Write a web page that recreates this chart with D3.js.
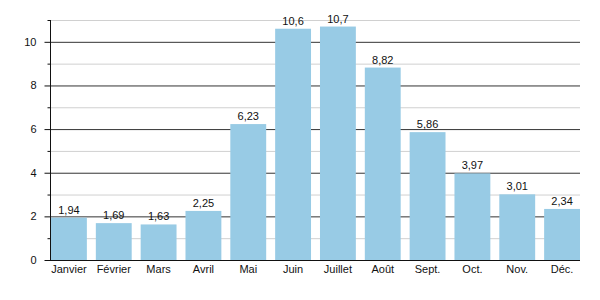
<!DOCTYPE html>
<html><head><meta charset="utf-8">
<script src="https://cdn.jsdelivr.net/npm/d3@7"></script>
<style>body{margin:0;background:#fff}svg{display:block}text{font-family:"Liberation Sans",Arial,sans-serif}</style>
</head><body><svg id="c" width="600" height="300"></svg>
<script>
const months = ["Janvier","Février","Mars","Avril","Mai","Juin","Juillet","Août","Sept.","Oct.","Nov.","Déc."];
const values = [1.94,1.69,1.63,2.25,6.23,10.6,10.7,8.82,5.86,3.97,3.01,2.34];
const valueLabels = ["1,94","1,69","1,63","2,25","6,23","10,6","10,7","8,82","5,86","3,97","3,01","2,34"];
const majorTicks = [0,2,4,6,8,10];
const minorTicks = [1,3,5,7,9,11];

const svg = d3.select("#c");
const x = d3.scaleBand().domain(months).range([51,580]).paddingInner(0.2).paddingOuter(0);
const y = d3.scaleLinear().domain([0,11]).range([260,20]);
const x0 = 50, x1 = 580;

// minor gridlines
svg.append("g").selectAll("line").data(minorTicks).join("line")
  .attr("x1",x0).attr("x2",x1).attr("y1",d=>y(d)+0.5).attr("y2",d=>y(d)+0.5)
  .attr("stroke","#d0d0d0").attr("stroke-width",1);
// major gridlines
svg.append("g").selectAll("line").data(majorTicks.filter(d=>d>0)).join("line")
  .attr("x1",x0).attr("x2",x1).attr("y1",d=>y(d)+0.5).attr("y2",d=>y(d)+0.5)
  .attr("stroke","#333").attr("stroke-width",1);

// bars
svg.append("g").selectAll("rect").data(values).join("rect")
  .attr("x",(d,i)=>x(months[i])).attr("width",x.bandwidth())
  .attr("y",d=>y(d)).attr("height",d=>y(0)-y(d))
  .attr("fill","#98cbe5");

// value labels
svg.append("g").selectAll("text").data(values).join("text")
  .attr("x",(d,i)=>x(months[i])+x.bandwidth()/2).attr("y",d=>y(d)-4)
  .attr("text-anchor","middle").attr("font-size",11).attr("fill","#111")
  .text((d,i)=>valueLabels[i]);

// y axis
const yAxis = d3.axisLeft(y).tickValues(majorTicks).tickSize(6).tickPadding(8).tickFormat(d3.format("d"));
const ga = svg.append("g").attr("transform",`translate(${x0+0.5},0)`).call(yAxis);
ga.select(".domain").remove();
ga.selectAll("text").attr("font-size",11).attr("fill","#111").attr("font-family","Liberation Sans, Arial, sans-serif");
ga.selectAll("line").attr("stroke","#111");
const gm = svg.append("g").attr("transform",`translate(${x0+0.5},0)`)
  .call(d3.axisLeft(y).tickValues(minorTicks).tickSize(3).tickFormat(""));
gm.select(".domain").remove();
gm.selectAll("line").attr("stroke","#111");
svg.append("line").attr("x1",x0+0.5).attr("x2",x0+0.5).attr("y1",y(11)).attr("y2",y(0)+1).attr("stroke","#111");

// x axis
svg.append("line").attr("x1",x0).attr("x2",x1).attr("y1",y(0)+0.5).attr("y2",y(0)+0.5).attr("stroke","#111");
const gx = svg.append("g").attr("transform",`translate(0,${y(0)})`)
  .call(d3.axisBottom(x).tickSize(0).tickPadding(5));
gx.select(".domain").remove();
gx.selectAll("text").attr("font-size",11).attr("fill","#111").attr("font-family","Liberation Sans, Arial, sans-serif");
</script></body></html>
